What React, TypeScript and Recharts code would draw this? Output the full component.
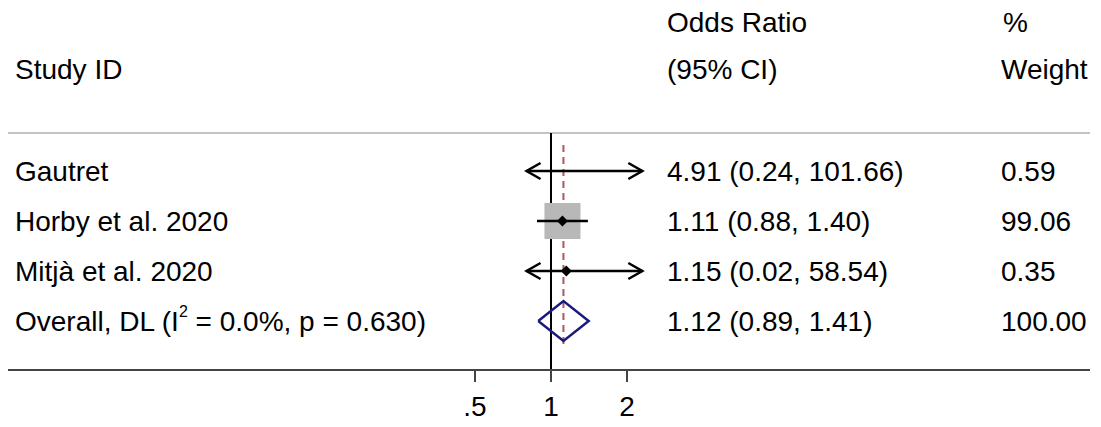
import { ComposedChart, ReferenceLine, Scatter, XAxis, YAxis } from 'recharts'

const STUDIES = ['Gautret', 'Horby et al. 2020', 'Mitjà et al. 2020']
const OR = [4.91, 1.11, 1.15]
const LO = [0.24, 0.88, 0.02]
const HI = [101.66, 1.40, 58.54]
const WEIGHT = [0.59, 99.06, 0.35]

const OVERALL_LABEL = 'Overall, DL'
const OVERALL_I2 = '0.0%'
const OVERALL_P = '0.630'
const OVERALL_OR = 1.12
const OVERALL_LO = 0.89
const OVERALL_HI = 1.41
const OVERALL_WEIGHT = 100

const TICKS = [0.5, 1, 2]
const TICK_LABELS = ['.5', '1', '2']

// x runs in log2(OR); the window is the full graph width, CIs are cut at CLIP
const X_DOMAIN = [-7.145, 7.092]
const CLIP = [0.8, 2.3]
const Y_DOMAIN = [0.24, 4.98]

const FONT = '"Liberation Sans", Arial, sans-serif'
const FS = 28
const NAVY = '#1a1a7e'
const DASH_RED = '#b0565e'

const log2 = (v: number) => Math.log2(v)
const fmt = (v: number) => v.toFixed(2)

const overallRow = STUDIES.length + 1

const ciData = STUDIES.map((_, i) => [
  { x: log2(Math.max(LO[i], CLIP[0])), y: i + 1, arrow: LO[i] < CLIP[0] ? 'left' : '' },
  { x: log2(Math.min(HI[i], CLIP[1])), y: i + 1, arrow: HI[i] > CLIP[1] ? 'right' : '' },
])

const pointData = STUDIES.map((_, i) => ({ x: log2(OR[i]), y: i + 1, w: WEIGHT[i], or: OR[i] }))
  .filter(d => d.or >= CLIP[0] && d.or <= CLIP[1])

const diamondData = [
  { x: log2(OVERALL_LO), y: overallRow },
  { x: log2(OVERALL_OR), y: overallRow - 0.4 },
  { x: log2(OVERALL_HI), y: overallRow },
  { x: log2(OVERALL_OR), y: overallRow + 0.4 },
  { x: log2(OVERALL_LO), y: overallRow },
]

const textRows = [
  ...STUDIES.map((s, i) => ({
    x: 0, y: i + 1, label: s, ci: `${fmt(OR[i])} (${fmt(LO[i])}, ${fmt(HI[i])})`, wt: fmt(WEIGHT[i]), overall: false,
  })),
  {
    x: 0, y: overallRow, label: OVERALL_LABEL,
    ci: `${fmt(OVERALL_OR)} (${fmt(OVERALL_LO)}, ${fmt(OVERALL_HI)})`, wt: fmt(OVERALL_WEIGHT), overall: true,
  },
]

function Arrow(props: any) {
  const { cx, cy, payload } = props
  if (!payload.arrow) return <g />
  const d = payload.arrow === 'left' ? 14 : -14
  return (
    <polyline
      points={`${cx + d},${cy - 8} ${cx},${cy} ${cx + d},${cy + 8}`}
      fill="none" stroke="#000" strokeWidth={2.5}
    />
  )
}

function Box(props: any) {
  const { cx, cy, payload } = props
  const side = 3.62 * Math.sqrt(payload.w)
  return <rect x={cx - side / 2} y={cy - side / 2} width={side} height={side} fill="#b8b8b8" />
}

function Marker(props: any) {
  const { cx, cy } = props
  return <polygon points={`${cx - 5.5},${cy} ${cx},${cy - 5.5} ${cx + 5.5},${cy} ${cx},${cy + 5.5}`} fill="#000" />
}

function RowText(props: any) {
  const { cy, payload } = props
  const y = cy + 10
  return (
    <g fontFamily={FONT} fontSize={FS} fill="#000">
      {payload.overall ? (
        <text x={15} y={y}>
          {payload.label} (I
          <tspan fontSize={16} dy={-14}>2</tspan>
          <tspan dy={14}> = {OVERALL_I2}, p = {OVERALL_P})</tspan>
        </text>
      ) : (
        <text x={15} y={y}>{payload.label}</text>
      )}
      <text x={667} y={y}>{payload.ci}</text>
      <text x={1001} y={y}>{payload.wt}</text>
    </g>
  )
}

const Nothing = () => <g />

export default function App() {
  return (
    <div style={{ position: 'absolute', left: 0, top: 0, width: 1101, height: 427, background: '#fff', fontFamily: FONT }}>
      <ComposedChart width={1101} height={427} margin={{ top: 133, right: 11, left: 8, bottom: 0 }}>
        <XAxis
          type="number"
          dataKey="x"
          domain={X_DOMAIN}
          allowDataOverflow
          ticks={TICKS.map(log2)}
          tickFormatter={(v: number) => TICK_LABELS[TICKS.findIndex(t => Math.abs(log2(t) - v) < 1e-6)]}
          height={57}
          tickSize={12}
          tickMargin={14}
          axisLine={{ stroke: '#444', strokeWidth: 2 }}
          tickLine={{ stroke: '#444', strokeWidth: 2 }}
          tick={{ fontSize: FS, fill: '#000', fontFamily: FONT }}
        />
        <YAxis type="number" dataKey="y" domain={Y_DOMAIN} reversed hide allowDataOverflow />
        <ReferenceLine y={Y_DOMAIN[0]} stroke="#c4c4c4" strokeWidth={2} />
        <Scatter data={pointData} shape={Box} isAnimationActive={false} />
        <ReferenceLine x={0} stroke="#000" strokeWidth={2} />
        {ciData.map((d, i) => (
          <Scatter
            key={i}
            data={d}
            line={{ stroke: '#000', strokeWidth: 2.5 }}
            shape={Arrow}
            isAnimationActive={false}
          />
        ))}
        <Scatter data={pointData} shape={Marker} isAnimationActive={false} />
        <Scatter
          data={diamondData}
          line={{ stroke: NAVY, strokeWidth: 2.5, strokeLinejoin: 'miter' }}
          shape={Nothing}
          isAnimationActive={false}
        />
        <ReferenceLine
          segment={[{ x: log2(OVERALL_OR), y: 0.48 }, { x: log2(OVERALL_OR), y: 4.48 }]}
          stroke={DASH_RED}
          strokeWidth={2}
          strokeDasharray="7 5"
        />
        <Scatter data={textRows} shape={RowText} isAnimationActive={false} />
      </ComposedChart>
      <svg width={1101} height={133} style={{ position: 'absolute', left: 0, top: 0 }}>
        <g fontFamily={FONT} fontSize={FS} fill="#000">
          <text x={15} y={79}>Study ID</text>
          <text x={667} y={32}>Odds Ratio</text>
          <text x={667} y={79}>(95% CI)</text>
          <text x={1003} y={32}>%</text>
          <text x={1001} y={79}>Weight</text>
        </g>
      </svg>
    </div>
  )
}
